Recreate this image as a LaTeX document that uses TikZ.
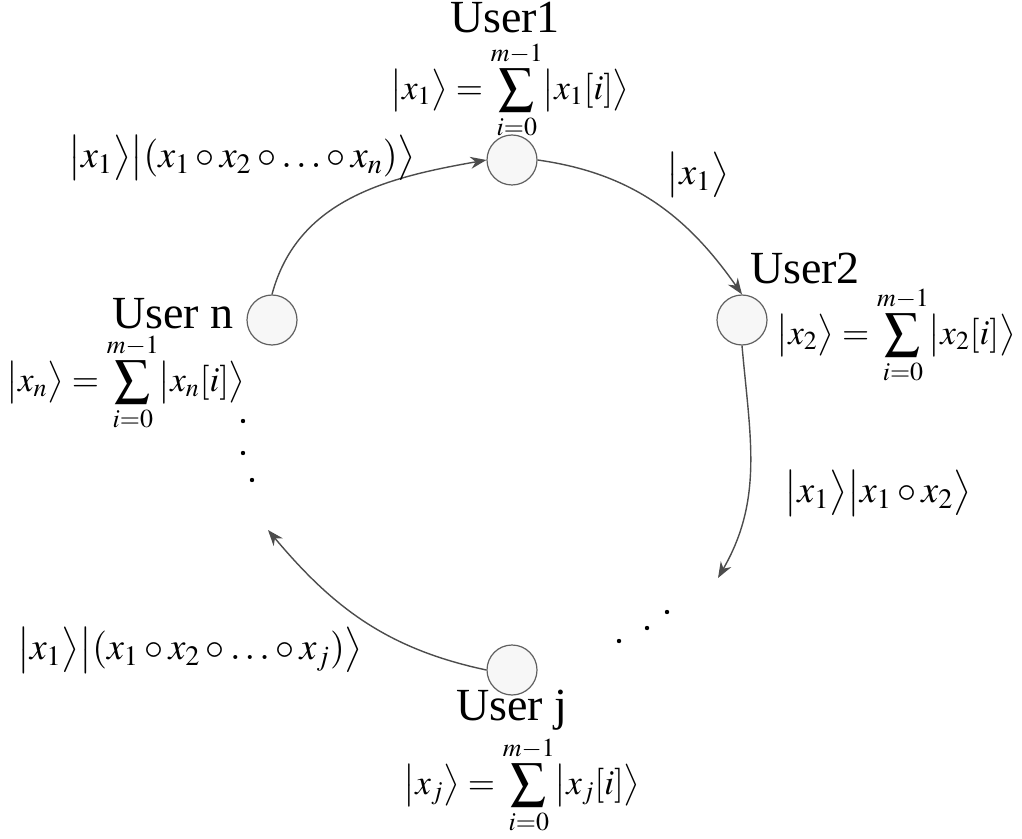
\documentclass[tikz,border=0pt]{standalone}
\usepackage{amsmath}
\usepackage{mathptmx}
\usepackage{fontspec}
\setmainfont{Liberation Serif}
\usetikzlibrary{arrows.meta}

\tikzset{
  user/.style={circle, draw=gray!75!black, fill=gray!6, minimum size=25pt, inner sep=0pt, line width=0.6pt},
  link/.style={->, draw=gray!60!black, line width=0.7pt},
  txt/.style={font=\fontsize{23}{27}\selectfont, inner sep=1pt},
  eq/.style={font=\fontsize{17.5}{21}\selectfont, inner sep=1pt},
  lbl/.style={font=\fontsize{19}{23}\selectfont, inner sep=1pt},
}
\newcommand{\kt}[1]{\bigl|#1\bigr\rangle}
\newcommand{\ketsum}[1]{$\kt{x_{#1}}=\displaystyle\sum_{i=0}^{m-1}\kt{x_{#1}[i]}$}

\begin{document}
\begin{tikzpicture}[x=0.5pt, y=-0.5pt, >={Stealth[length=8pt,width=6pt]}]
\useasboundingbox (0,0) rectangle (1022,839);

% users on the ring
\node [user] (u1) at (512,160) {};
\node [user] (u2) at (742,320) {};
\node [user] (un) at (272,320) {};
\node [user] (uj) at (512,670) {};

\node [txt] (u1name) at (505,18) {User1};
\node [eq] (u1sum) at (510,90) {\ketsum{1}};
\node [txt] (u2name) at (805,268) {User2};
\node [eq, anchor=east] (u2sum) at (1018,335) {\ketsum{2}};
\node [txt, anchor=east] (unname) at (236,314) {User n};
\node [eq] (unsum) at (126,382) {\ketsum{n}};
\node [txt] (ujname) at (512,710) {User j};
\node [eq] (ujsum) at (522,785) {\ketsum{j}};

% open ends of the arrows
\coordinate (e2) at (718,578);
\coordinate (ej) at (268,530);

\draw [link] (un.north) to [out=75, in=190] (u1.west);
\draw [link] (u1.east) to [out=-8, in=125] (u2.north);
\draw [link] (u2.south) to [out=-85, in=60] (e2);
\draw [link] (uj.west) to [out=168, in=-50] (ej);

\node [lbl] (m1) at (242,158) {$\kt{x_1}\kt{(x_1\circ x_2\circ\ldots\circ x_n)}$};
\node [lbl] (m2) at (698,175) {$\kt{x_1}$};
\node [lbl] (m3) at (878,493) {$\kt{x_1}\kt{x_1\circ x_2}$};
\node [lbl] (m4) at (190,650) {$\kt{x_1}\kt{(x_1\circ x_2\circ\ldots\circ x_j)}$};

% dots
\foreach \p in {(243,421),(243,453),(252,480),(619,641),(647,628),(667,612)}
  \fill \p circle (1.1pt);
\end{tikzpicture}
\end{document}
